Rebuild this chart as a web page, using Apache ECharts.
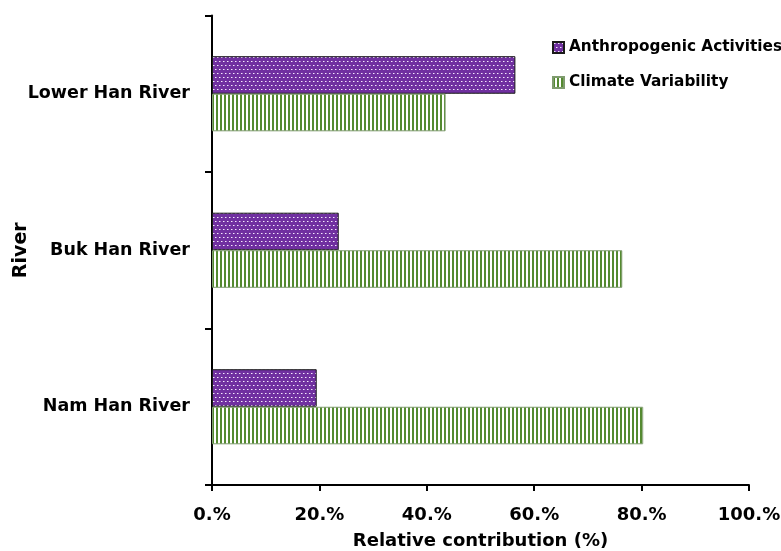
<!DOCTYPE html>
<html>
<head>
<meta charset="utf-8">
<script src="https://cdn.jsdelivr.net/npm/echarts@6/dist/echarts.min.js"></script>
<style>html,body{margin:0;padding:0;background:#fff;}#c{width:781px;height:551px;}</style>
</head>
<body>
<div id="c"></div>
<script>
var categories = ['Nam Han River', 'Buk Han River', 'Lower Han River'];
var anthropogenic = [19.5, 23.6, 56.5];
var climate = [80.3, 76.4, 43.5];
var xTicks = [0, 20, 40, 60, 80, 100];
var seriesNames = ['Anthropogenic Activities', 'Climate Variability'];

function dotPattern() {
  var c = document.createElement('canvas');
  c.width = 8; c.height = 8;
  var g = c.getContext('2d');
  g.fillStyle = '#7030a0'; g.fillRect(0, 0, 8, 8);
  g.fillStyle = '#f4eafa';
  [[1,1],[5,1],[3,5],[7,5]].forEach(function(p){ g.fillRect(p[0], p[1], 1, 1); });
  g.fillStyle = '#b08ad0';
  [[2,1],[6,1],[4,5],[0,5]].forEach(function(p){ g.fillRect(p[0], p[1], 1, 1); });
  return c;
}
function stripePattern() {
  var c = document.createElement('canvas');
  c.width = 4; c.height = 4;
  var g = c.getContext('2d');
  g.fillStyle = '#ffffff'; g.fillRect(0, 0, 4, 4);
  g.fillStyle = '#548a30'; g.fillRect(0, 0, 2, 4);
  return c;
}

var font = '"DejaVu Sans", Verdana, sans-serif';
var chart = echarts.init(document.getElementById('c'), null, {renderer: 'canvas'});
chart.setOption({
  animation: false,
  backgroundColor: '#ffffff',
  grid: {left: 212, right: 32, top: 15.5, bottom: 66, containLabel: false, outerBoundsMode: 'none'},
  legend: {
    orient: 'vertical', left: 547, top: 35, itemWidth: 11, itemHeight: 11, itemGap: 20,
    icon: 'rect',
    textStyle: {fontFamily: font, fontWeight: 'bold', fontSize: 15.3, color: '#000'},
    data: seriesNames
  },
  xAxis: {
    type: 'value', min: xTicks[0], max: xTicks[xTicks.length - 1], interval: 20,
    name: 'Relative contribution (%)', nameLocation: 'middle', nameGap: 47,
    nameTextStyle: {fontFamily: font, fontWeight: 'bold', fontSize: 18, color: '#000'},
    axisLine: {show: true, lineStyle: {color: '#000', width: 2}},
    axisTick: {show: true, length: 6, lineStyle: {color: '#000', width: 2}},
    splitLine: {show: false},
    axisLabel: {margin: 21, fontFamily: font, fontWeight: 'bold', fontSize: 18, color: '#000',
      formatter: function(v){ return v + '.%'; }}
  },
  yAxis: {
    type: 'category', data: categories,
    name: 'River', nameLocation: 'middle', nameGap: 181, nameRotate: 90, nameMoveOverlap: false,
    nameTextStyle: {fontFamily: font, fontWeight: 'bold', fontSize: 19, color: '#000'},
    axisLine: {show: true, lineStyle: {color: '#000', width: 2}},
    axisTick: {show: true, length: 7, lineStyle: {color: '#000', width: 2}},
    axisLabel: {margin: 22, fontFamily: font, fontWeight: 'bold', fontSize: 17.5, color: '#000'}
  },
  series: [
    {name: seriesNames[0], type: 'bar', data: anthropogenic, barGap: '0%', barCategoryGap: '52%',
     itemStyle: {color: {image: dotPattern(), repeat: 'repeat'}, borderColor: '#1a1a1a', borderWidth: 1}},
    {name: seriesNames[1], type: 'bar', data: climate, barGap: '0%', barCategoryGap: '52%',
     itemStyle: {color: {image: stripePattern(), repeat: 'repeat'}, borderColor: '#7f9c6e', borderWidth: 1}}
  ]
});
</script>
</body>
</html>
